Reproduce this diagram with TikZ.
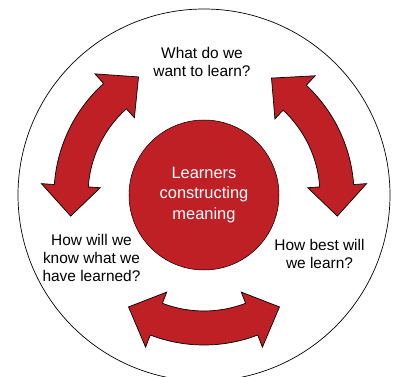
\documentclass[tikz,border=0pt]{standalone}
\usepackage{fontspec}
\setmainfont{Liberation Sans}
\definecolor{arrowred}{RGB}{190,32,38}
\newcommand\dblarc[2]{%
  \draw[redshape] (#1:150) arc[start angle=#1, end angle=#2, radius=150]
    -- (#2:163) -- ({#2+13}:135) -- (#2:104) -- (#2:116)
    arc[start angle=#2, end angle=#1, radius=116]
    -- (#1:104) -- ({#1-13}:135) -- (#1:163) -- cycle;}
\begin{document}
\begin{tikzpicture}[x=1bp,y=1bp,
  redshape/.style={fill=arrowred, draw=black, line width=0.7bp, line join=miter},
  qtext/.style={align=center, font=\fontsize{15.5}{18.5}\selectfont, inner sep=0pt},
  corestyle/.style={circle, fill=arrowred, draw=black, line width=0.5bp,
    minimum size=150bp, inner sep=0pt, text=white, align=center,
    font=\fontsize{16.5}{21}\selectfont}]
\useasboundingbox (0,0) rectangle (397,377);
\begin{scope}
  \clip (0,0) rectangle (397,377);
  \draw[line width=0.7bp] (204,182) circle[radius=186];
\end{scope}
\begin{scope}[shift={(204,182)}]
  \dblarc{132}{176}
  \dblarc{4}{47}
  \dblarc{249}{291}
\end{scope}
\node[corestyle] (core) at (204,182) {Learners\\constructing\\meaning};
\node[qtext] (q1) at (202,315) {What do we\\want to learn?};
\node[qtext] (q2) at (319.5,123) {How best will\\we learn?};
\node[qtext] (q3) at (91.5,119) {How will we\\know what we\\have learned?};
\end{tikzpicture}
\end{document}
